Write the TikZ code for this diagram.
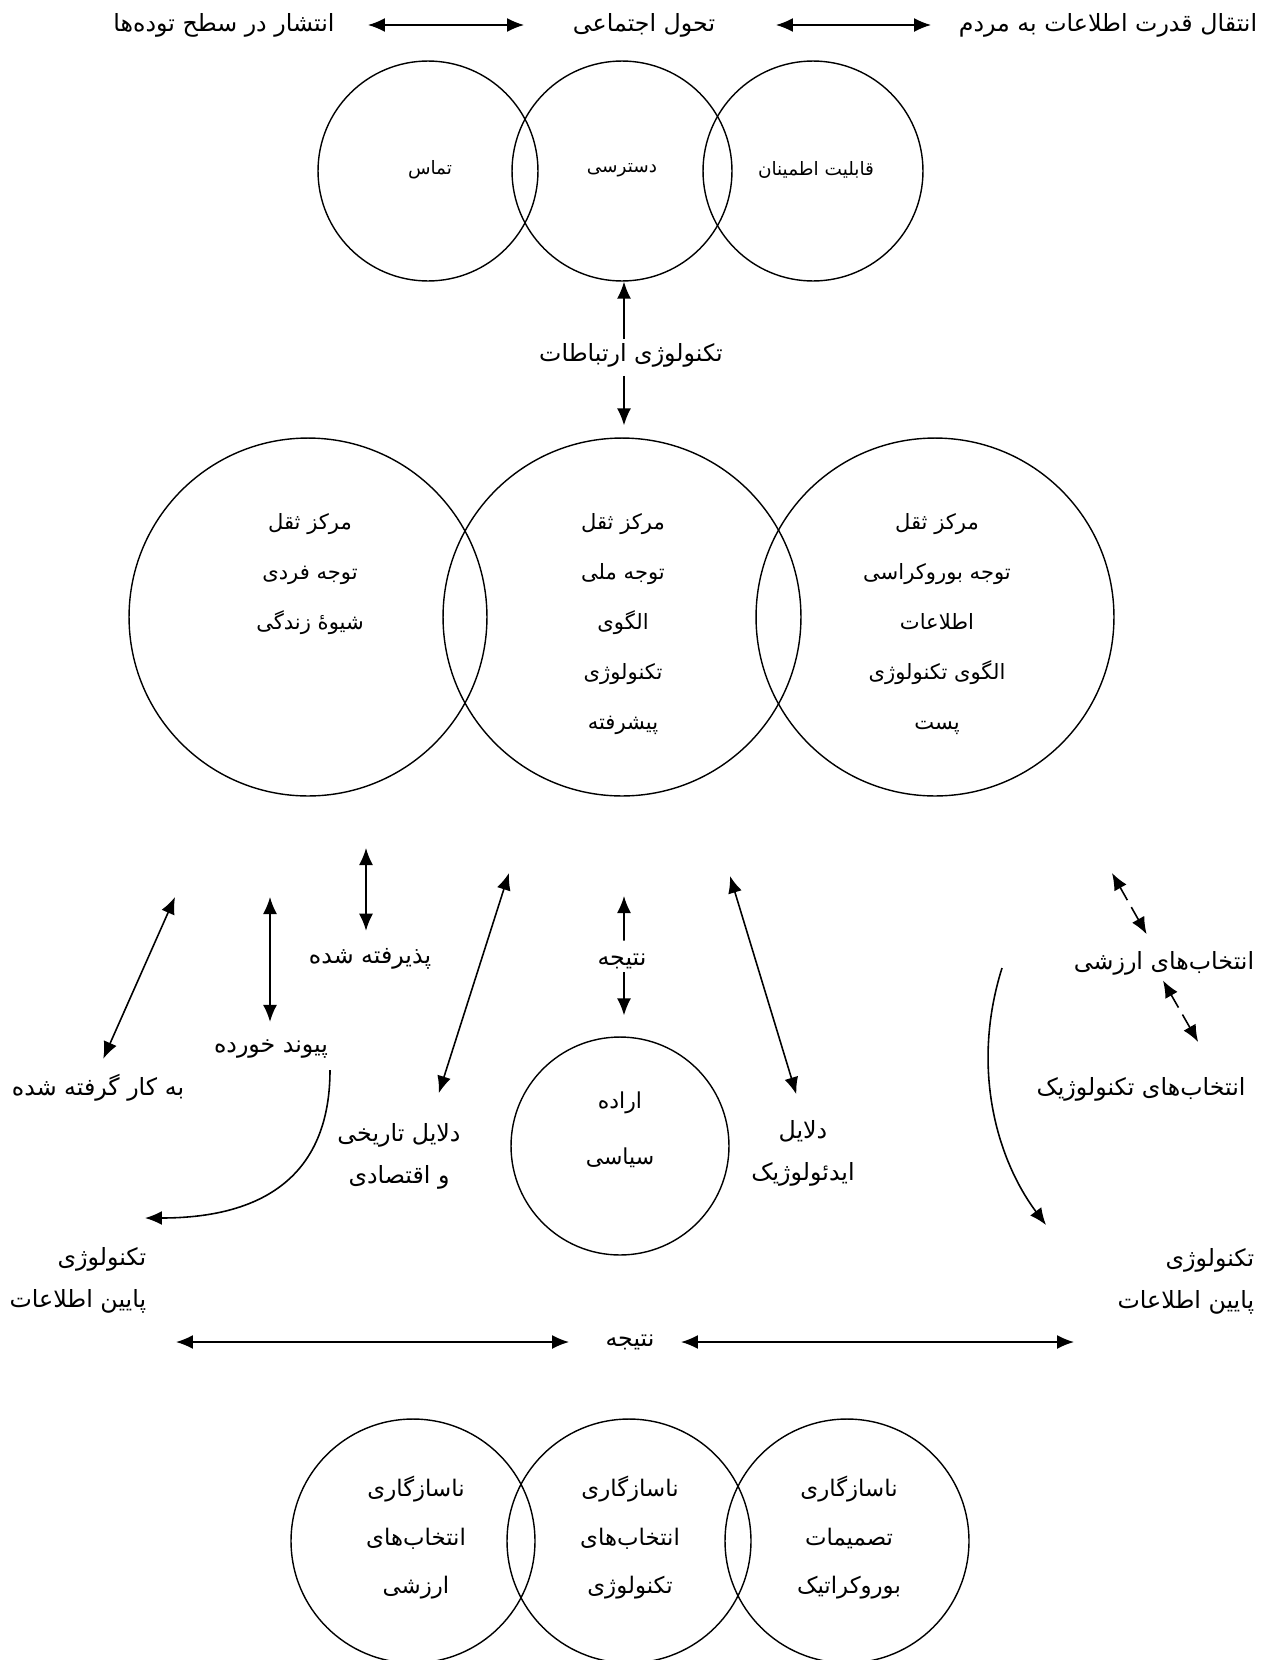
\documentclass[tikz,border=0pt]{standalone}
\usepackage{fontspec}
\newfontfamily\farsi[Script=Arabic]{DejaVu Sans}
\TeXXeTstate=1
\usepackage{tikz}
\usetikzlibrary{arrows.meta}

\newcommand{\fa}[1]{\beginR #1\endR}

\tikzset{
  matn/.style={font=\farsi\fontsize{13.5}{16}\selectfont, inner sep=2pt},
  riz/.style={font=\farsi\fontsize{10.5}{12}\selectfont, inner sep=2pt},
  chand/.style={align=center, inner sep=2pt, font=\farsi\fontsize{12}{28.4}\selectfont},
  doline/.style={align=center, inner sep=2pt, font=\farsi\fontsize{13.5}{23.9}\selectfont},
  dayere/.style={circle, draw, line width=0.8pt, inner sep=0pt},
  yek/.style={-{Latex[length=0.34cm,width=0.28cm]}, line width=0.9pt},
  dobar/.style={{Latex[length=0.34cm,width=0.28cm]}-{Latex[length=0.34cm,width=0.28cm]}, line width=0.9pt},
}

\begin{document}
\begin{tikzpicture}[x=0.02cm, y=-0.02cm]
  \useasboundingbox (0,0) rectangle (1266,1660);

  \draw (224,25) node[matn] (entashar) {\fa{انتشار در سطح توده^^^^200cها}};
  \draw (644,25) node[matn] (tahavol) {\fa{تحول اجتماعی}};
  \draw (1108,25) node[matn] (enteqal) {\fa{انتقال قدرت اطلاعات به مردم}};

  \draw (428,171) node[dayere, minimum size=4.4cm] (c-tamas) {};
  \draw (622,171) node[dayere, minimum size=4.4cm] (c-dastrasi) {};
  \draw (813,171) node[dayere, minimum size=4.4cm] (c-etminan) {};
    \draw (430,170) node[riz] (tamas) {\fa{تماس}};
    \draw (622,170) node[riz] (dastrasi) {\fa{دسترسی}};
    \draw (816,170) node[riz] (etminan) {\fa{قابلیت اطمینان}};

  \draw (631,355) node[matn] (ertebat) {\fa{تکنولوژی ارتباطات}};

  \draw (308,617) node[dayere, minimum size=7.16cm] (c-fardi) {};
  \draw (622,617) node[dayere, minimum size=7.16cm] (c-melli) {};
  \draw (935,617) node[dayere, minimum size=7.16cm] (c-post) {};
    \draw (310,574) node[chand] (fardi) {\fa{مرکز ثقل}\\\fa{توجه فردی}\\\fa{شیوهٔ زندگی}};
    \draw (623,624) node[chand] (melli) {\fa{مرکز ثقل}\\\fa{توجه ملی}\\\fa{الگوی}\\\fa{تکنولوژی}\\\fa{پیشرفته}};
    \draw (937,624) node[chand] (post) {\fa{مرکز ثقل}\\\fa{توجه بوروکراسی}\\\fa{اطلاعات}\\\fa{الگوی تکنولوژی}\\\fa{پست}};

  \draw (370,959) node[matn] (pazir) {\fa{پذیرفته شده}};
  \draw (271,1049) node[matn] (peyvand) {\fa{پیوند خورده}};
  \draw (98,1088) node[matn] (bekar) {\fa{به کار گرفته شده}};
  \draw (399,1156) node[doline] (tarikhi) {\fa{دلایل تاریخی}\\\fa{و اقتصادی}};
  \draw (622,961) node[matn] (natije) {\fa{نتیجه}};
  \draw (620,1146) node[dayere, minimum size=4.36cm] (c-erade) {};
    \draw (620,1130) node[align=center, inner sep=2pt, font=\farsi\fontsize{12.5}{31.9}\selectfont] (erade) {\fa{اراده}\\\fa{سیاسی}};
  \draw (803,1153) node[doline] (ideolog) {\fa{دلایل}\\\fa{ایدئولوژیک}};
  \draw (1164,963) node[matn] (arzeshi) {\fa{انتخاب^^^^200cهای ارزشی}};
  \draw (1141,1089) node[matn] (teknik) {\fa{انتخاب^^^^200cهای تکنولوژیک}};
  \draw (150,1280) node[doline, align=right, anchor=east] (tekno-chap) {\fa{تکنولوژی}\\\fa{پایین اطلاعات}};
  \draw (1258,1281) node[doline, align=right, anchor=east] (tekno-rast) {\fa{تکنولوژی}\\\fa{پایین اطلاعات}};
  \draw (630,1342) node[matn] (natije2) {\fa{نتیجه}};

  \draw (413,1541) node[dayere, minimum size=4.88cm] (c-arzeshi) {};
  \draw (629,1541) node[dayere, minimum size=4.88cm] (c-tekno) {};
  \draw (847,1541) node[dayere, minimum size=4.88cm] (c-bouro) {};
    \draw (416,1538) node[chand, font=\farsi\fontsize{13}{27.6}\selectfont] (naz1) {\fa{ناسازگاری}\\\fa{انتخاب^^^^200cهای}\\\fa{ارزشی}};
    \draw (630,1538) node[chand, font=\farsi\fontsize{13}{27.6}\selectfont] (naz2) {\fa{ناسازگاری}\\\fa{انتخاب^^^^200cهای}\\\fa{تکنولوژی}};
    \draw (849,1538) node[chand, font=\farsi\fontsize{13}{27.6}\selectfont] (naz3) {\fa{ناسازگاری}\\\fa{تصمیمات}\\\fa{بوروکراتیک}};

  \coordinate (p-pazir) at (366,848);
  \coordinate (p-peyvand) at (270,897);
  \coordinate (p-bekar) at (175,897);
  \coordinate (p-tarikhi) at (509,873);
  \coordinate (p-natije) at (624,896);
  \coordinate (p-ideolog) at (730,876);
  \coordinate (p-arzeshi) at (1112,873);
  \coordinate (p-khat) at (330,1070);
  \coordinate (p-chap) at (145,1218);
  \coordinate (p-manhani) at (1002,968);
  \coordinate (p-rast) at (1046,1225);
  \coordinate (p-sar) at (176,1342);
  \coordinate (p-tah) at (1074,1342);

  \path[dobar, shorten <=2.88cm, shorten >=2.4cm] (entashar.center) edge (tahavol.center);
  \path[dobar, shorten <=2.64cm, shorten >=3.54cm] (tahavol.center) edge (enteqal.center);
  \path[yek] ([xshift=-0.14cm]ertebat.north) edge ([xshift=-0.14cm]ertebat.north |- c-dastrasi.south);
  \path[yek, shorten <=0.1cm, shorten >=0.24cm] ([xshift=-0.14cm]ertebat.south) edge ([xshift=-0.14cm]ertebat.south |- c-melli.north);

  \path[dobar, shorten >=0.28cm] (p-pazir) edge (p-pazir |- pazir.north);
  \path[dobar, shorten >=0.28cm] (p-peyvand) edge (p-peyvand |- peyvand.north);
  \path[dobar, shorten >=0.26cm] (p-bekar) edge (bekar.north);
  \path[dobar, shorten >=0.55cm] (p-tarikhi) edge ([xshift=0.63cm]tarikhi.north);
  \path[yek, shorten <=0.18cm] ([xshift=0.04cm]natije.north) edge (p-natije);
  \path[yek, shorten >=0.42cm] ([xshift=0.04cm]natije.south) edge ([xshift=0.04cm]natije.south |- c-erade.north);
  \path[dobar, shorten >=0.46cm] (p-ideolog) edge (ideolog.north);
  \path[dobar, dash pattern=on 0.3cm off 0.16cm, shorten >=0.3cm] (p-arzeshi) edge ([xshift=-0.2cm]arzeshi.north);
  \path[dobar, dash pattern=on 0.3cm off 0.16cm, shorten <=0.04cm, shorten >=0.72cm] ([xshift=-0.04cm]arzeshi.south) edge ([xshift=1.5cm]teknik.north);

  \draw[yek] (p-khat) .. controls (330,1170) and (270,1218) .. (p-chap);
  \draw[yek] (p-manhani) .. controls (970,1070) and (998,1161) .. (p-rast);

  \path[dobar, shorten >=1.22cm] (p-sar) edge (natije2.center);
  \path[dobar, shorten <=1.02cm] (natije2.center) edge (p-tah);
\end{tikzpicture}
\end{document}
